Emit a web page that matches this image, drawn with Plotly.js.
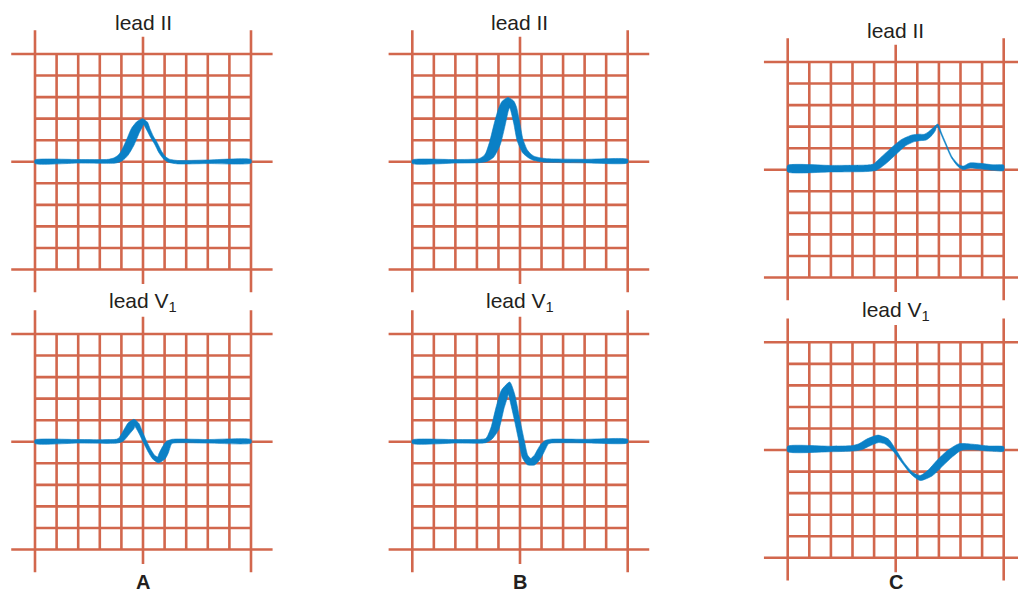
<!DOCTYPE html>
<html>
<head>
<meta charset="utf-8">
<script src="https://cdn.plot.ly/plotly-3.0.1.min.js"></script>
<style>
html,body{margin:0;padding:0;background:#ffffff;}
#chart{width:1018px;height:592px;}
</style>
</head>
<body>
<div id="chart"></div>
<script>
// ---------------- DATA ----------------
const categories = ['A', 'B', 'C'];
const leadLabels = ['lead II', 'lead V<sub>1</sub>'];
// grid positions in small-box units
const gridCols = [0,1,2,3,4,5,6,7,8,9,10];
const gridRows = [-5,-4,-3,-2,-1,0,1,2,3,4,5];

// Waveforms: x in small boxes (0..10), y in small boxes (baseline 0, up positive)
const A_leadII_x = [0, 2.0, 3.4, 3.7, 3.95, 4.15, 4.4, 4.65, 4.85, 5.0, 5.12, 5.25, 5.42, 5.6, 5.8, 6.0, 6.2, 6.6, 8.0, 10];
const A_leadII_y = [0, 0.02, 0.02, 0.06, 0.18, 0.4, 0.87, 1.45, 1.75, 1.86, 1.78, 1.5, 1.15, 0.85, 0.45, 0.18, 0.05, -0.02, 0, 0.02];

const A_leadV1_x = [0, 2.0, 3.8, 4.0, 4.24, 4.45, 4.6, 4.72, 4.86, 5.09, 5.32, 5.5, 5.7, 5.88, 6.02, 6.18, 6.35, 8.0, 10];
const A_leadV1_y = [0, 0.02, 0.03, 0.12, 0.45, 0.75, 0.88, 0.78, 0.5, 0.0, -0.45, -0.72, -0.84, -0.68, -0.4, -0.08, 0.02, 0.02, 0.02];

const B_leadII_x = [0, 2.0, 3.1, 3.4, 3.6, 3.84, 4.07, 4.23, 4.35, 4.46, 4.58, 4.69, 4.85, 5.0, 5.23, 5.45, 5.62, 5.9, 6.24, 8.0, 10];
const B_leadII_y = [0, 0.02, 0.05, 0.15, 0.32, 0.87, 1.79, 2.41, 2.7, 2.8, 2.72, 2.5, 1.79, 1.02, 0.48, 0.27, 0.17, 0.1, 0.06, 0.03, 0.03];

const B_leadV1_x = [0, 2.0, 3.4, 3.6, 3.84, 4.07, 4.3, 4.46, 4.61, 4.85, 5.08, 5.23, 5.43, 5.6, 5.78, 5.95, 6.08, 6.25, 6.45, 8.0, 10];
const B_leadV1_y = [0, 0.02, 0.05, 0.2, 0.63, 1.56, 2.33, 2.62, 2.2, 1.1, 0.01, -0.68, -0.93, -0.92, -0.75, -0.45, -0.22, -0.02, 0.03, 0.03, 0.03];

const C_leadII_x = [0, 2.0, 3.7, 4.04, 4.43, 4.89, 5.35, 5.81, 6.1, 6.36, 6.59, 6.78, 6.93, 7.1, 7.28, 7.59, 7.9, 8.13, 8.44, 8.9, 9.5, 10];
const C_leadII_y = [0.05, 0.05, 0.07, 0.12, 0.43, 0.85, 1.25, 1.46, 1.5, 1.51, 1.67, 1.88, 2.08, 1.7, 1.28, 0.58, 0.2, 0.09, 0.2, 0.17, 0.1, 0.09];

const C_leadV1_x = [0, 2.0, 3.0, 3.35, 3.73, 4.19, 4.58, 4.97, 5.35, 5.74, 6.13, 6.59, 7.05, 7.51, 7.98, 8.59, 9.3, 10];
const C_leadV1_y = [0.05, 0.05, 0.08, 0.15, 0.35, 0.52, 0.4, -0.05, -0.6, -1.07, -1.3, -1.07, -0.6, -0.17, 0.14, 0.14, 0.07, 0.05];

// ---------------- STYLE / LAYOUT ----------------
const W = 1018, H = 592;
const GRID_COLOR = '#d2674d';
const TRACE_COLOR = '#0a80c6';
const TEXT_COLOR = '#231f20';
const FONT = 'Liberation Sans, Arial, Helvetica, sans-serif';

// stroke thickness (px) at each waveform point — pen style
const STROKE = {
  A0: [3.6, 3.6, 4, 5.5, 7, 8, 9, 9, 7.5, 6, 4.5, 3.5, 3, 3, 3, 3, 3.2, 3.4, 3.6, 3.6],
  A1: [3.6, 3.6, 4, 5.5, 7, 8, 7, 5, 4, 3.5, 3.5, 4, 6, 8, 8, 6, 4, 3.6, 3.6],
  B0: [3.6, 3.6, 4, 6.5, 9, 11, 11, 10, 9, 8, 7, 6.5, 6, 6, 5.5, 4.5, 4, 3.8, 3.6, 3.6, 3.6],
  B1: [3.6, 3.6, 4, 5.5, 8, 8, 7.5, 7, 6, 5.5, 5.5, 6, 7, 7.5, 7, 7, 6.5, 4.5, 3.8, 3.6, 3.6],
  C0: [6.5, 6.5, 6.5, 7, 8, 8, 7.5, 7, 6.5, 6, 5, 3.5, 2, 1.0, 1.0, 1.0, 2, 3.5, 5, 5.5, 5.5, 5.5],
  C1: [5.5, 5.5, 5.5, 6.5, 7.5, 7.5, 6, 3, 1.8, 2.5, 5, 7, 8, 8, 7, 5.5, 5, 4.5]
};

// panel geometry in pixels
const COL = {A: {x0: 35, cx: 21.6}, B: {x0: 412.3, cx: 21.54}, C: {x0: 787.7, cx: 21.6}};
const ROWTOP = {A: [54, 334], B: [54, 334], C: [62, 342.3]};
const CY = 21.55;
const Y_RANGE = [[-6.3, 7], [-6.2, 7]];

const waves = {
  A: [[A_leadII_x, A_leadII_y], [A_leadV1_x, A_leadV1_y]],
  B: [[B_leadII_x, B_leadII_y], [B_leadV1_x, B_leadV1_y]],
  C: [[C_leadII_x, C_leadII_y], [C_leadV1_x, C_leadV1_y]]
};

function strokePolygon(xs, ys, widths, cx, cy) {
  const n = xs.length, up = [], lo = [];
  for (let i = 0; i < n; i++) {
    const a = Math.max(0, i - 1), b = Math.min(n - 1, i + 1);
    const dx = (xs[b] - xs[a]) * cx, dy = (ys[b] - ys[a]) * cy;
    const len = Math.hypot(dx, dy) || 1;
    const nx = -dy / len, ny = dx / len, h = widths[i] / 2;
    up.push([xs[i] + nx * h / cx, ys[i] + ny * h / cy]);
    lo.push([xs[i] - nx * h / cx, ys[i] - ny * h / cy]);
  }
  const pts = up.concat(lo.reverse());
  pts.push(pts[0]);
  return {x: pts.map(p => p[0]), y: pts.map(p => p[1])};
}

function gridLines() {
  const xs = [], ys = [];
  gridCols.forEach(c => {
    let below = 0, above = 0;
    if (c === gridCols[0] || c === gridCols[gridCols.length - 1]) { below = 1.05; above = 1.1; }
    else if (c === 5) { below = 0.67; above = 0.8; }
    xs.push(c, c, null);
    ys.push(gridRows[0] - below, gridRows[gridRows.length - 1] + above, null);
  });
  gridRows.forEach(r => {
    const major = (r % 5 === 0);
    const left = major ? 1.1 : 0, right = major ? 1.0 : 0;
    xs.push(gridCols[0] - left, gridCols[gridCols.length - 1] + right, null);
    ys.push(r, r, null);
  });
  return {xs, ys};
}

const traces = [];
const layout = {
  width: W, height: H,
  margin: {l: 0, r: 0, t: 0, b: 0},
  paper_bgcolor: '#ffffff', plot_bgcolor: 'rgba(0,0,0,0)',
  showlegend: false,
  annotations: []
};

let idx = 0;
categories.forEach(cat => {
  const g = COL[cat];
  [0, 1].forEach(row => {
    idx++;
    const xa = idx === 1 ? 'xaxis' : 'xaxis' + idx;
    const ya = idx === 1 ? 'yaxis' : 'yaxis' + idx;
    const xr = idx === 1 ? 'x' : 'x' + idx;
    const yr = idx === 1 ? 'y' : 'y' + idx;
    const top = ROWTOP[cat][row];
    const pxL = Math.max(0, g.x0 - 1.3 * g.cx), pxR = Math.min(W, g.x0 + 11.3 * g.cx);
    const xRange = [(pxL - g.x0) / g.cx, (pxR - g.x0) / g.cx];
    const yr0 = Y_RANGE[row];
    const yPx = u => top + (5 - u) * CY;
    const axBase = {showgrid: false, zeroline: false, showticklabels: false, showline: false, ticks: '', fixedrange: true};
    layout[xa] = Object.assign({}, axBase, {domain: [pxL / W, pxR / W], range: xRange, anchor: yr});
    layout[ya] = Object.assign({}, axBase, {domain: [1 - yPx(yr0[0]) / H, 1 - yPx(yr0[1]) / H], range: yr0, anchor: xr});

    const gl = gridLines();
    traces.push({
      type: 'scatter', mode: 'lines', x: gl.xs, y: gl.ys, xaxis: xr, yaxis: yr,
      line: {color: GRID_COLOR, width: 2.6}, hoverinfo: 'skip', connectgaps: false
    });

    const [wx, wy] = waves[cat][row];
    const poly = strokePolygon(wx, wy, STROKE[cat + row], g.cx, CY);
    traces.push({
      type: 'scatter', mode: 'lines', x: poly.x, y: poly.y, xaxis: xr, yaxis: yr,
      fill: 'toself', fillcolor: TRACE_COLOR,
      line: {color: TRACE_COLOR, width: 0.6, shape: 'spline', smoothing: 0.6},
      hoverinfo: 'skip'
    });

    layout.annotations.push({
      xref: xr, yref: yr, x: 5, y: 5 + 1.47, text: leadLabels[row], showarrow: false,
      xanchor: 'center', yanchor: 'middle',
      font: {family: FONT, size: 21, color: TEXT_COLOR}
    });
    if (row === 1) {
      layout.annotations.push({
        xref: xr, yref: 'paper', x: 5, y: 1 - 582 / H, text: '<b>' + cat + '</b>', showarrow: false,
        xanchor: 'center', yanchor: 'middle',
        font: {family: FONT, size: 20, color: TEXT_COLOR}
      });
    }
  });
});

Plotly.newPlot('chart', traces, layout, {staticPlot: true, displayModeBar: false});
</script>
</body>
</html>
